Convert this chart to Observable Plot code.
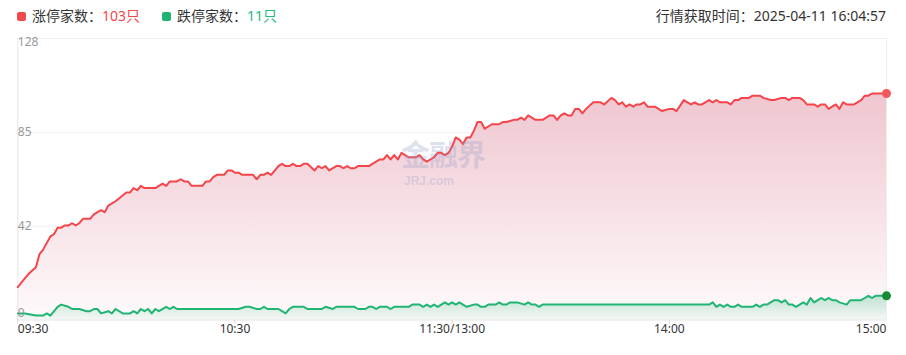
<!DOCTYPE html>
<html>
<head>
<meta charset="utf-8">
<script src="https://cdn.jsdelivr.net/npm/d3@7"></script>
<script src="https://cdn.jsdelivr.net/npm/@observablehq/plot@0.6"></script>
<style>
  html, body { margin: 0; padding: 0; background: #fff; }
  body { font-family: "Noto Sans", "Noto Sans CJK SC", sans-serif; }
  #wrap { position: relative; width: 906px; height: 355px; overflow: hidden; }
  #header { position: absolute; left: 0; top: 0; width: 906px; height: 30px; font-size: 14px; color: #333; }
  .sq { position: absolute; top: 12px; width: 9px; height: 9px; border-radius: 2px; }
  .lg { position: absolute; top: 6px; line-height: 20px; white-space: nowrap; }
  #time { position: absolute; right: 20px; top: 6px; line-height: 20px; white-space: nowrap; }
  #chart { position: absolute; left: 0; top: 30px; }
  #wm { position: absolute; left: 401px; top: 137px; color: rgba(140,155,200,0.30); font-weight: bold; pointer-events: none; white-space: nowrap; line-height: 33px; font-family: "Noto Sans CJK SC", sans-serif; }
  #wm .b { font-size: 29px; letter-spacing: -1px; }
  #wm .s { font-size: 12px; font-family: "Liberation Sans", sans-serif; display: inline-block; line-height: 11px; vertical-align: top; margin-left: 3px; }
</style>
</head>
<body>
<div id="wrap">
  <div id="header"></div>
  <div id="chart"></div>
  <div id="wm"><span class="b">金融界</span><br><span class="s">JRJ.com</span></div>
</div>
<script>
// ---- data (minutes after 09:30 in trading time, 240 = 15:00) ----
const upMinutes = [0,2,3,5,6,7,9,10,11,12,13,14,15,16,17,18,20,21,23,24,25,27,30,31,32,33,34,35,38,40,41,42,44,45,46,47,48,51,52,53,54,55,57,58,59,60,61,62,65,66,67,68,69,70,72,73,74,75,76,77,78,79,80,82,83,84,85,86,88,89,90,91,92,93,94,97,98,100,101,102,103,104,105,106,107,108,110,111,112,113,115,116,117,118,119,120,121,122,123,124,125,126,127,128,129,131,133,134,135,137,138,139,140,141,142,143,145,147,148,149,150,151,152,153,154,155,156,157,159,161,162,164,165,166,167,168,169,170,171,172,173,174,176,177,178,180,181,182,184,185,186,187,188,189,191,192,193,194,196,197,198,199,200,202,203,205,206,208,209,211,212,213,214,216,217,218,220,221,222,223,224,225,226,227,228,229,231,233,234,235,236,240];
const upValues  = [15,19,21,24,30,32,38,39,42,42,43,43,44,43,44,46,46,48,50,49,52,54,58,58,60,59,61,60,60,62,61,63,63,64,63,63,61,61,63,63,65,66,66,68,68,67,67,66,66,64,66,66,67,66,70,71,70,70,71,70,70,71,71,68,70,69,70,68,70,70,69,70,69,69,70,70,71,73,73,75,73,75,73,76,75,74,74,75,73,72,74,76,76,75,76,79,83,82,80,83,83,86,90,90,87,89,89,90,90,91,91,92,91,93,92,91,91,93,93,91,93,94,93,93,96,96,94,96,99,99,98,101,100,98,99,97,98,97,98,98,99,97,97,96,95,96,96,95,100,99,98,99,98,98,100,99,100,99,99,98,100,100,101,101,102,102,101,100,100,101,101,100,101,101,100,98,98,97,98,98,96,97,98,96,99,98,98,100,102,102,103,103];

const downMinutes = [0,2,5,7,8,9,11,12,14,15,17,19,20,21,22,23,25,26,27,29,31,32,33,34,35,36,37,38,39,41,42,43,44,61,63,64,66,67,68,69,72,73,74,75,76,79,80,84,85,87,88,93,94,96,97,98,99,100,102,103,104,108,109,111,112,113,114,115,116,117,118,119,120,121,122,123,124,126,127,128,129,130,132,133,134,135,136,138,140,141,142,143,144,145,191,192,193,194,195,196,197,198,199,200,203,204,205,206,207,209,210,211,212,213,214,215,216,217,218,219,220,221,222,223,224,225,226,227,229,230,233,234,235,236,237,240];
const downValues  = [3,3,2,2,3,2,6,7,6,5,5,4,4,5,5,3,4,3,5,3,3,4,3,5,4,5,3,5,4,6,5,6,5,5,6,6,5,5,6,5,5,4,3,5,6,6,5,5,6,5,6,6,5,5,6,6,5,6,6,5,6,6,7,7,6,7,6,7,6,7,8,7,8,7,8,7,6,7,7,6,6,7,7,8,7,7,8,8,7,8,7,7,6,7,7,8,6,7,6,7,6,6,7,6,6,7,6,7,7,9,9,8,9,7,7,6,7,8,7,10,8,9,10,9,10,9,9,8,7,9,9,10,11,10,11,11];

const upCount = 103, downCount = 11;
const updateTime = "2025-04-11 16:04:57";

const xTickValues = [0, 60, 120, 180, 240];
const xTickLabels = ["09:30", "10:30", "11:30/13:00", "14:00", "15:00"];
const yTickValues = [0, 128/3, 256/3, 128];
const yTickLabels = ["0", "42", "85", "128"];

// ---- colours ----
const RED = "#f5454b", GREEN = "#21b573", GREEN_DOT = "#178a35";

// ---- header ----
const header = document.getElementById("header");
header.innerHTML = `
  <div class="sq" style="left:17px;background:#f04a4e"></div>
  <div class="lg" style="left:32px">涨停家数：<span style="color:${RED}">${upCount}只</span></div>
  <div class="sq" style="left:162px;background:#1fb472"></div>
  <div class="lg" style="left:177px">跌停家数：<span style="color:#22bb82">${downCount}只</span></div>
  <div id="time">行情获取时间：${updateTime}</div>`;

// ---- tables ----
const up = upMinutes.map((m, i) => ({m, v: upValues[i]}));
const down = downMinutes.map((m, i) => ({m, v: downValues[i]}));
const xt = xTickValues.map((m, i) => ({m, label: xTickLabels[i], i}));
const yt = yTickValues.map((v, i) => ({v, label: yTickLabels[i], i}));
const nX = xt.length, nY = yt.length;

const font = '"Noto Sans", "Noto Sans CJK SC", sans-serif';

const chart = Plot.plot({
  width: 906,
  height: 325,
  marginTop: 8,
  marginBottom: 35.5,
  marginLeft: 17.3,
  marginRight: 20,
  x: {domain: [0, 240], axis: null},
  y: {domain: [0, 128], axis: null},
  style: {fontFamily: font, fontSize: "12px", background: "transparent", overflow: "visible"},
  marks: [
    Plot.ruleY(yt.filter(d => d.i > 0), {y: "v", stroke: "#efefef", strokeWidth: 1}),
    Plot.areaY(up, {x: "m", y: "v", fill: "url(#gradUp)", curve: "linear"}),
    Plot.areaY(down, {x: "m", y: "v", fill: "url(#gradDown)", curve: "linear"}),
    Plot.ruleX([0], {stroke: "#e4e4e4", strokeWidth: 1}),
    Plot.ruleX([240], {stroke: "#eeeeee", strokeWidth: 1}),
    Plot.ruleY([0], {stroke: "#e4e4e4", strokeWidth: 1}),
    Plot.ruleX(xt.filter(d => d.i < nX - 1), {x: "m", y1: 0, y2: 0, insetBottom: -4, stroke: "#d8d8d8"}),
    Plot.lineY(up, {x: "m", y: "v", stroke: RED, strokeWidth: 2, strokeLinejoin: "round"}),
    Plot.lineY(down, {x: "m", y: "v", stroke: GREEN, strokeWidth: 2, strokeLinejoin: "round"}),
    Plot.dot(up.slice(-1), {x: "m", y: "v", r: 4.5, fill: "#f5585c", stroke: "none"}),
    Plot.dot(down.slice(-1), {x: "m", y: "v", r: 4.5, fill: GREEN_DOT, stroke: "none"}),
    // y labels (inside the plot)
    Plot.text(yt.filter(d => d.i === nY - 1), {y: "v", text: "label", frameAnchor: "left", textAnchor: "start", lineAnchor: "top", dy: -1, fill: "#999"}),
    Plot.text(yt.filter(d => d.i > 0 && d.i < nY - 1), {y: "v", text: "label", frameAnchor: "left", textAnchor: "start", lineAnchor: "middle", fill: "#999"}),
    Plot.text(yt.filter(d => d.i === 0), {y: "v", text: "label", frameAnchor: "left", textAnchor: "start", lineAnchor: "bottom", dy: -3, fill: "#999"}),
    // x labels
    Plot.text(xt.filter(d => d.i === 0), {x: "m", text: "label", frameAnchor: "bottom", textAnchor: "start", dy: 13, fill: "#333"}),
    Plot.text(xt.filter(d => d.i > 0 && d.i < nX - 1), {x: "m", text: "label", frameAnchor: "bottom", textAnchor: "middle", dy: 13, fill: "#333"}),
    Plot.text(xt.filter(d => d.i === nX - 1), {x: "m", text: "label", frameAnchor: "bottom", textAnchor: "end", dy: 13, fill: "#333"})
  ]
});

// gradient definitions
const defs = d3.select(chart).insert("defs", ":first-child");
const g1 = defs.append("linearGradient").attr("id", "gradUp").attr("x1", 0).attr("y1", 0).attr("x2", 0).attr("y2", 1);
g1.append("stop").attr("offset", "0%").attr("stop-color", "#efc6cf");
g1.append("stop").attr("offset", "100%").attr("stop-color", "#fefafb");
const g2 = defs.append("linearGradient").attr("id", "gradDown").attr("x1", 0).attr("y1", 0).attr("x2", 0).attr("y2", 1);
g2.append("stop").attr("offset", "0%").attr("stop-color", "#21b573").attr("stop-opacity", 0.28);
g2.append("stop").attr("offset", "100%").attr("stop-color", "#21b573").attr("stop-opacity", 0.04);

document.getElementById("chart").appendChild(chart);
</script>
</body>
</html>
